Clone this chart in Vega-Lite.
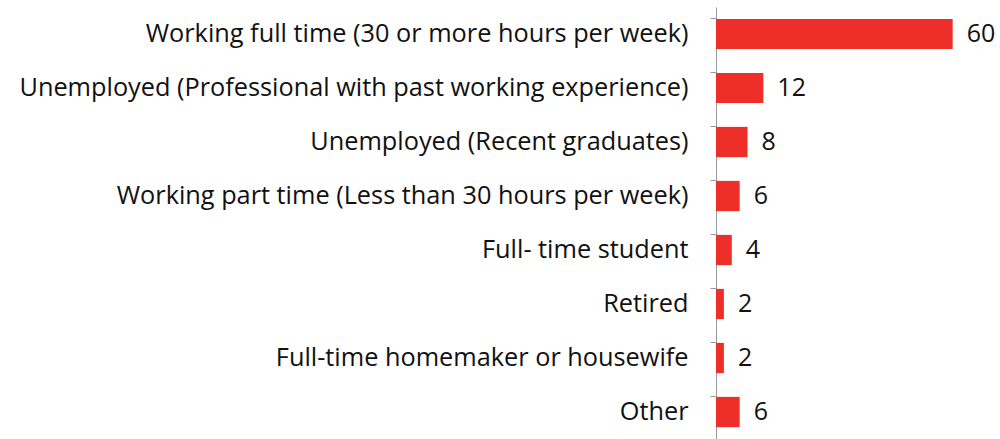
{
  "$schema": "https://vega.github.io/schema/vega-lite/v6.json",
  "width": 284,
  "height": 432,
  "autosize": {"type": "none"},
  "padding": {"left": 716, "top": 7, "right": 0, "bottom": 0},
  "background": "white",
  "data": {"values": [
    {"category": "Working full time (30 or more hours per week)", "value": 60},
    {"category": "Unemployed (Professional with past working experience)", "value": 12},
    {"category": "Unemployed (Recent graduates)", "value": 8},
    {"category": "Working part time (Less than 30 hours per week)", "value": 6},
    {"category": "Full- time student", "value": 4},
    {"category": "Retired", "value": 2},
    {"category": "Full-time homemaker or housewife", "value": 2},
    {"category": "Other", "value": 6}
  ]},
  "config": {"view": {"stroke": null}},
  "encoding": {
    "y": {"field": "category", "type": "nominal", "sort": null,
      "scale": {"paddingInner": 0.44, "paddingOuter": 0.22},
      "axis": {"title": null, "domainColor": "#999999", "tickColor": "#999999", "tickSize": 6,
        "bandPosition": 0, "labelFont": "Open Sans", "labelFontSize": 25.3, "labelColor": "#111111",
        "labelPadding": 22, "labelLimit": 800, "grid": false}},
    "x": {"field": "value", "type": "quantitative", "scale": {"domain": [0, 72], "nice": false}, "axis": null}
  },
  "layer": [
    {"mark": {"type": "bar", "color": "#EE2E28"}},
    {"mark": {"type": "text", "align": "left", "dx": 14, "font": "Open Sans", "fontSize": 25, "color": "#111111"},
     "encoding": {"text": {"field": "value", "type": "quantitative"}}}
  ]
}
